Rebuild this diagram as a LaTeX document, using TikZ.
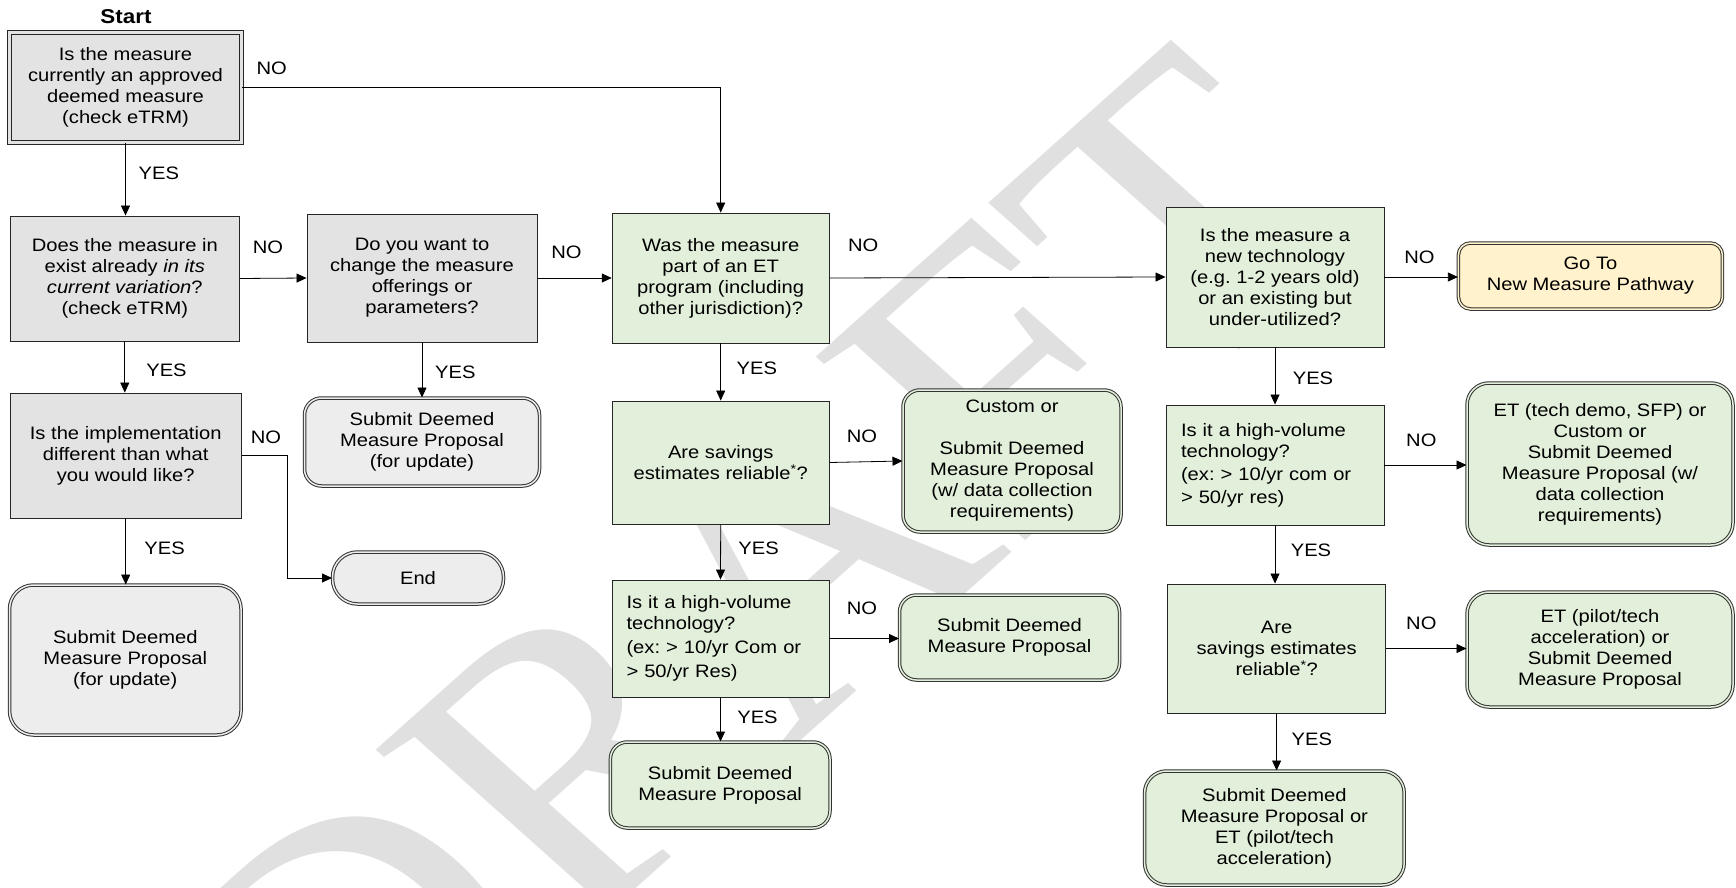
\documentclass[tikz,border=0pt]{standalone}
\usepackage{fontspec}
\setmainfont{Liberation Sans}[FakeStretch=1.12]
\newfontfamily\wmfont{Liberation Serif}
\usetikzlibrary{arrows.meta}
\frenchspacing
\definecolor{grayfill}{HTML}{E3E3E3}
\definecolor{grayround}{HTML}{EDEDED}
\definecolor{greenfill}{HTML}{E2EFDA}
\definecolor{yellowfill}{HTML}{FFF2CC}
\definecolor{wmgray}{HTML}{E0E0E0}
\definecolor{edge}{HTML}{262626}
\definecolor{redge}{HTML}{333333}
\begin{document}
\begin{tikzpicture}[x=1pt,y=-1pt,
  txt/.style={font=\fontsize{18}{21}\selectfont},
  sz/.style 2 args={minimum width=#1pt, minimum height=#2pt},
  box/.style={txt, rectangle, draw=edge, line width=0.9pt, align=center, inner sep=0pt},
  gbox/.style={box, fill=grayfill},
  grbox/.style={box, fill=greenfill},
  startbox/.style={box, fill=grayfill, double=grayfill, double distance=2.5pt, line width=1pt},
  rbox/.style={txt, rectangle, rounded corners=17pt, draw=redge, line width=1pt, double distance=1.5pt, align=center, inner sep=0pt},
  rgray/.style={rbox, fill=grayround, double=grayround},
  rgreen/.style={rbox, fill=greenfill, double=greenfill},
  ryellow/.style={rbox, rounded corners=12pt, fill=yellowfill, double=yellowfill},
  lbl/.style={txt, inner sep=0pt},
  arr/.style={-{Triangle[length=10pt,width=9pt]}, line width=0.8pt, draw=black}
]
\useasboundingbox (0,0) rectangle (1736,888);
\fill[white] (0,0) rectangle (1736,888);

% watermark
\begin{scope}
\clip (0,0) rectangle (1736,888);
\begin{scope}[xscale=1.12]
\node[rotate=45, transform shape, anchor=base east, inner sep=0pt, text=wmgray, font=\fontsize{400}{400}\selectfont\wmfont] (wm) at (1236,220) {DRAFT};
\end{scope}
\end{scope}

\node[font=\fontsize{20}{21}\selectfont\bfseries] (start) at (126,17) {Start};

% left column
\node[startbox, sz={232}{110}] (n1) at (125.5,87.7) {Is the measure\\currently an approved\\deemed measure\\(check eTRM)};
\node[gbox, sz={229}{125}] (n2) at (124.8,278.5) {Does the measure in\\exist already \textit{in its}\\\textit{current variation}?\\(check eTRM)};
\node[gbox, sz={230}{128}] (n3) at (422,278) {Do you want to\\change the measure\\offerings or\\parameters?};
\node[gbox, sz={231}{125}] (n4) at (125.7,455.5) {Is the implementation\\different than what\\you would like?};
\node[rgray, rounded corners=24pt, sz={231.5}{150}] (n5) at (125.3,660) {Submit Deemed\\Measure Proposal\\(for update)};
\node[rgray, sz={235}{88}] (n6) at (422,442) {Submit Deemed\\Measure Proposal\\(for update)};
\node[rgray, rounded corners=25pt, sz={171}{52}] (end) at (418,578) {End};

% middle column
\node[grbox, sz={217}{130}] (n7) at (720.7,278) {Was the measure\\part of an ET\\program (including\\other jurisdiction)?};
\node[grbox, sz={217}{123}] (n8) at (720.7,462.5) {Are savings\\estimates reliable\textsuperscript{*}?};
\node[rgreen, sz={218}{142}] (n9) at (1012,461) {Custom or\\[21pt]Submit Deemed\\Measure Proposal\\(w/ data collection\\requirements)};
\node[grbox, align=left, text width=188pt, sz={217}{117}] (n10) at (720.5,638.5) {Is it a high-volume\\technology?\\[3pt](ex: > 10/yr Com or\\[3pt]> 50/yr Res)};
\node[rgreen, sz={220}{85}] (n11) at (1009.5,637.5) {Submit Deemed\\Measure Proposal};
\node[rgreen, sz={219.6}{86}] (n12) at (720.2,785) {Submit Deemed\\Measure Proposal};

% right column
\node[grbox, sz={218}{140}] (n13) at (1275,277) {Is the measure a\\new technology\\(e.g. 1-2 years old)\\or an existing but\\under-utilized?};
\node[ryellow, sz={264}{66}] (n14) at (1590.4,276) {Go To\\New Measure Pathway};
\node[grbox, align=left, text width=188pt, sz={218}{120}] (n15) at (1275,465) {Is it a high-volume\\technology?\\[2pt](ex: > 10/yr com or\\[2pt]> 50/yr res)};
\node[rgreen, rounded corners=22pt, sz={266}{162}] (n16) at (1600,464) {ET (tech demo, SFP) or\\Custom or\\Submit Deemed\\Measure Proposal (w/\\data collection\\requirements)};
\node[grbox, sz={218.5}{129}] (n17) at (1276.6,648.5) {Are\\savings estimates\\reliable\textsuperscript{*}?};
\node[rgreen, rounded corners=22pt, sz={266}{115}] (n18) at (1600,649.5) {ET (pilot/tech\\acceleration) or\\Submit Deemed\\Measure Proposal};
\node[rgreen, rounded corners=22pt, sz={259.6}{114}] (n19) at (1274.4,828) {Submit Deemed\\Measure Proposal or\\ET (pilot/tech\\acceleration)};

% connectors
\draw[arr] (n1.south) -- (n1.south |- n2.north);
\draw[arr] (n1.east) -| (n7.north);
\draw[arr] (n2.east) -- (n3.west);
\draw[arr] (n3.east) -- (n7.west);
\draw[arr] (n2.south) -- (n2.south |- n4.north);
\draw[arr] (n3.south) -- (n3.south |- n6.north);
\draw[arr] (n4.south) -- (n4.south |- n5.north);
\draw[arr] (n4.east) -- ++(46,0) |- (end.west);
\draw[arr] (n7.east) -- (n13.west);
\draw[arr] (n7.south) -- (n8.north);
\draw[arr] (n8.east) -- (n9.west);
\draw[arr] (n8.south) -- (n10.north);
\draw[arr] (n10.east) -- (n10.east -| n11.west);
\draw[arr] (n10.south) -- (n10.south |- n12.north);
\draw[arr] (n13.east) -- (n13.east -| n14.west);
\draw[arr] (n13.south) -- (n13.south |- n15.north);
\draw[arr] (n15.east) -- (n15.east -| n16.west);
\draw[arr] (n15.south) -- (n15.south |- n17.north);
\draw[arr] (n17.east) -- (n17.east -| n18.west);
\draw[arr] (n17.south) -- (n17.south |- n19.north);

% labels
\node[lbl] (l1) at (271.7,68) {NO};
\node[lbl] (l2) at (158.8,173) {YES};
\node[lbl] (l3) at (267.9,247) {NO};
\node[lbl] (l4) at (566.4,252) {NO};
\node[lbl] (l5) at (166.5,370) {YES};
\node[lbl] (l6) at (455.4,372) {YES};
\node[lbl] (l7) at (266,437) {NO};
\node[lbl] (l8) at (164.6,548) {YES};
\node[lbl] (l9) at (863.2,245) {NO};
\node[lbl] (l10) at (756.8,368) {YES};
\node[lbl] (l11) at (862,436) {NO};
\node[lbl] (l12) at (758.6,548) {YES};
\node[lbl] (l13) at (862,608) {NO};
\node[lbl] (l14) at (757.5,717) {YES};
\node[lbl] (l15) at (1419.4,257) {NO};
\node[lbl] (l16) at (1313,378) {YES};
\node[lbl] (l17) at (1421.3,440) {NO};
\node[lbl] (l18) at (1311,550) {YES};
\node[lbl] (l19) at (1421.3,623) {NO};
\node[lbl] (l20) at (1311.8,739) {YES};
\end{tikzpicture}
\end{document}
